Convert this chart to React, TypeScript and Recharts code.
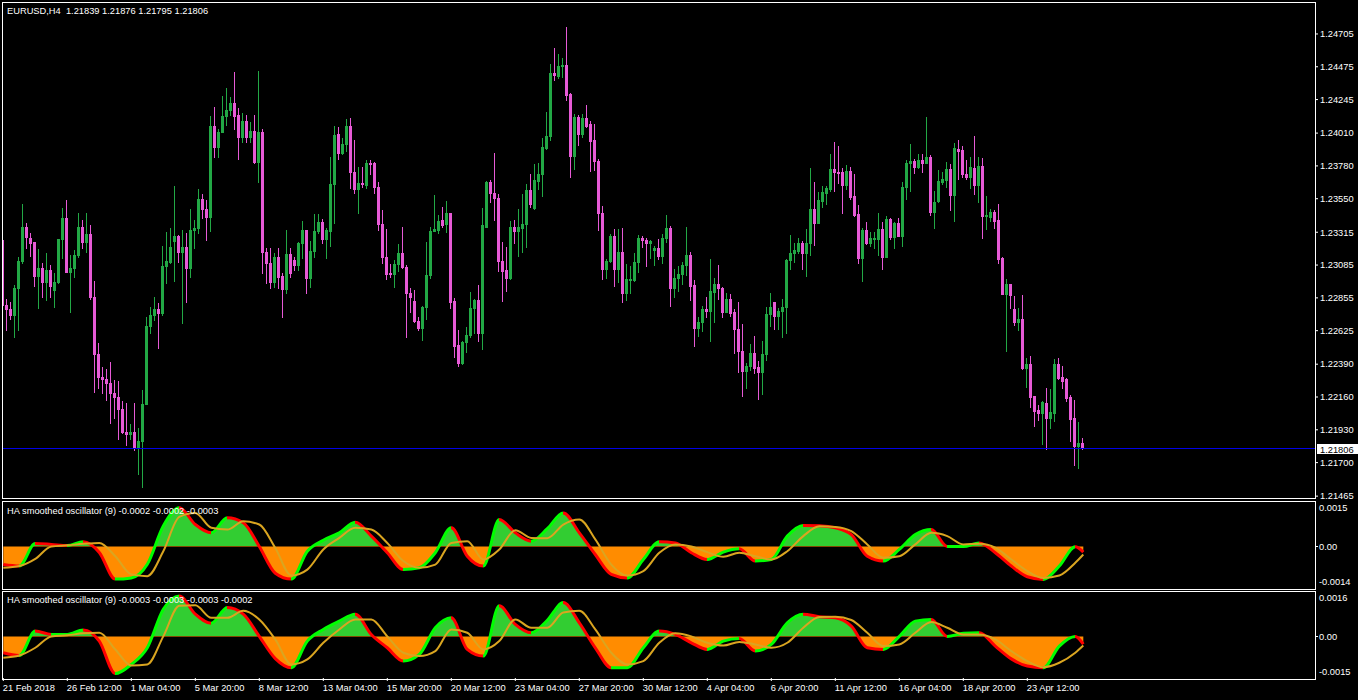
import React from "react";
import { ComposedChart, Bar, XAxis, YAxis, ReferenceLine, Area, Line } from "recharts";

const FONT = '"Liberation Sans", Arial, sans-serif';
const FS = 9.3;

// ---- price data (EURUSD H4) ----
const openPrice = [
1.23261,1.22805,1.22777,1.22735,1.22924,1.23113,1.23352,1.23275,1.23247,1.23008,
1.23064,1.22966,1.23050,1.22910,1.22966,1.23268,1.23415,1.23036,1.23064,1.23155,
1.23352,1.23247,1.23303,1.22861,1.22461,1.22300,1.22286,1.22258,1.22188,1.22160,
1.22076,1.21915,1.21901,1.21915,1.21803,1.21852,1.22111,1.22658,1.22735,1.22777,
1.22749,1.23078,1.23106,1.23254,1.23289,1.23176,1.23212,1.23064,1.23331,1.23345,
1.23548,1.23478,1.23422,1.24060,1.23913,1.24018,1.24130,1.24172,1.24221,1.24137,
1.23983,1.24095,1.23983,1.24025,1.23807,1.24018,1.23176,1.23099,1.22966,1.23141,
1.23008,1.22917,1.23162,1.23120,1.23085,1.23240,1.23331,1.22994,1.23183,1.23324,
1.23387,1.23268,1.23324,1.23653,1.24004,1.23870,1.23934,1.24060,1.23737,1.23618,
1.23660,1.23646,1.23800,1.23800,1.23632,1.23373,1.23141,1.23029,1.23022,1.23092,
1.23169,1.23071,1.22889,1.22833,1.22693,1.22644,1.22791,1.23015,1.23324,1.23331,
1.23401,1.23373,1.23450,1.22833,1.22525,1.22398,1.22546,1.22595,1.22784,1.22840,
1.22609,1.23352,1.23667,1.23590,1.23555,1.23113,1.23050,1.22994,1.23352,1.23324,
1.23345,1.23373,1.23611,1.23485,1.23674,1.23723,1.23906,1.23990,1.24432,1.24410,
1.24480,1.24487,1.24284,1.23849,1.24123,1.24004,1.24116,1.24074,1.23962,1.23814,
1.23450,1.23057,1.23113,1.23289,1.23057,1.23176,1.22889,1.22980,1.22980,1.23106,
1.23275,1.23261,1.23240,1.23190,1.23205,1.23148,1.23275,1.23345,1.22924,1.22994,
1.23022,1.23085,1.23155,1.22945,1.22644,1.22686,1.22777,1.22763,1.22896,1.22952,
1.22924,1.22756,1.22848,1.22756,1.22637,1.22482,1.22342,1.22377,1.22468,1.22370,
1.22335,1.22461,1.22742,1.22826,1.22728,1.22763,1.22791,1.23120,1.23169,1.23183,
1.23240,1.23169,1.23240,1.23478,1.23380,1.23534,1.23590,1.23618,1.23758,1.23737,
1.23737,1.23646,1.23744,1.23569,1.23443,1.23134,1.23331,1.23240,1.23268,1.23268,
1.23338,1.23141,1.23408,1.23282,1.23380,1.23289,1.23632,1.23800,1.23814,1.23772,
1.23821,1.23800,1.23842,1.23457,1.23534,1.23667,1.23681,1.23758,1.23576,1.23899,
1.23891,1.23723,1.23702,1.23765,1.23646,1.23779,1.23429,1.23422,1.23457,1.23401,
1.23134,1.22882,1.22952,1.22777,1.22686,1.22707,1.22363,1.22391,1.22167,1.22069,
1.22048,1.22118,1.22013,1.22048,1.22391,1.22300,1.22286,1.22160,1.22013,1.21817,
1.21839];

const highPrice = [
1.23583,1.22848,1.22826,1.22945,1.23141,1.23513,1.23380,1.23310,1.23247,1.23198,
1.23099,1.23169,1.23085,1.23029,1.23268,1.23485,1.23541,1.23155,1.23190,1.23450,
1.23401,1.23450,1.23366,1.22973,1.22539,1.22370,1.22356,1.22405,1.22279,1.22272,
1.22132,1.22118,1.21971,1.22118,1.21943,1.22209,1.22721,1.22791,1.22861,1.22819,
1.23219,1.23317,1.23345,1.23639,1.23296,1.23331,1.23310,1.23478,1.23401,1.23618,
1.23583,1.23541,1.24130,1.24193,1.24039,1.24271,1.24327,1.24264,1.24438,1.24186,
1.24151,1.24137,1.24088,1.24137,1.24446,1.24039,1.23205,1.23205,1.23169,1.23205,
1.23029,1.23331,1.23205,1.23141,1.23247,1.23394,1.23331,1.23254,1.23443,1.23443,
1.23408,1.23345,1.23842,1.24060,1.24053,1.23976,1.24109,1.24116,1.23962,1.23772,
1.23772,1.23821,1.23821,1.23807,1.23667,1.23471,1.23338,1.23092,1.23120,1.23233,
1.23352,1.23085,1.22924,1.22910,1.22721,1.22798,1.23247,1.23352,1.23576,1.23436,
1.23492,1.23534,1.23450,1.22854,1.22630,1.22553,1.22651,1.22896,1.22848,1.22945,
1.23485,1.23674,1.23681,1.23870,1.23583,1.23247,1.23212,1.23394,1.23401,1.23478,
1.23583,1.23653,1.23723,1.23793,1.23800,1.23976,1.24158,1.24495,1.24607,1.24564,
1.24536,1.24754,1.24291,1.24144,1.24137,1.24144,1.24207,1.24095,1.24074,1.23828,
1.23499,1.23127,1.23303,1.23338,1.23338,1.23345,1.23092,1.23078,1.23169,1.23296,
1.23289,1.23275,1.23261,1.23219,1.23268,1.23303,1.23436,1.23359,1.23057,1.23078,
1.23106,1.23352,1.23176,1.22980,1.22721,1.22798,1.22861,1.23127,1.22994,1.23085,
1.22931,1.22889,1.22882,1.22777,1.22826,1.22672,1.22398,1.22532,1.22588,1.22412,
1.22553,1.22791,1.22889,1.22826,1.22784,1.22848,1.23127,1.23296,1.23240,1.23275,
1.23254,1.23338,1.23765,1.23667,1.23597,1.23639,1.23639,1.23863,1.23948,1.23920,
1.23765,1.23786,1.23772,1.23723,1.23506,1.23345,1.23387,1.23317,1.23317,1.23450,
1.23387,1.23429,1.23415,1.23387,1.23415,1.23667,1.23821,1.23934,1.23828,1.23863,
1.23863,1.24123,1.23856,1.23604,1.23751,1.23737,1.23807,1.23793,1.23941,1.23962,
1.23920,1.23821,1.23842,1.23990,1.23842,1.23835,1.23569,1.23478,1.23471,1.23513,
1.23141,1.22987,1.22952,1.22868,1.22784,1.22875,1.22433,1.22447,1.22167,1.22104,
1.22132,1.22223,1.22216,1.22426,1.22433,1.22377,1.22293,1.22174,1.22139,1.21985,
1.21876];

const lowPrice = [
1.22784,1.22630,1.22707,1.22581,1.22630,1.23099,1.23205,1.23148,1.22938,1.22784,
1.22861,1.22840,1.22861,1.22791,1.22959,1.23134,1.23036,1.22756,1.23001,1.23141,
1.23205,1.23176,1.22848,1.22195,1.22223,1.22188,1.22139,1.21978,1.22013,1.21866,
1.21908,1.21824,1.21866,1.21788,1.21620,1.21529,1.22111,1.22609,1.22700,1.22504,
1.22735,1.22959,1.23099,1.22973,1.23106,1.22679,1.22826,1.23001,1.23205,1.23310,
1.23415,1.23261,1.23324,1.23842,1.23842,1.24018,1.24067,1.24137,1.24039,1.23828,
1.23948,1.23948,1.23948,1.23800,1.23667,1.23029,1.22959,1.22924,1.22931,1.22924,
1.22721,1.22889,1.23001,1.23050,1.23050,1.23134,1.22889,1.22931,1.23141,1.23310,
1.23240,1.23134,1.23219,1.23380,1.23828,1.23863,1.23884,1.23625,1.23590,1.23450,
1.23632,1.23625,1.23723,1.23590,1.23331,1.23099,1.22987,1.23001,1.22931,1.23043,
1.23064,1.22581,1.22756,1.22686,1.22630,1.22560,1.22707,1.22994,1.23324,1.23310,
1.23352,1.23317,1.22784,1.22440,1.22377,1.22391,1.22475,1.22581,1.22609,1.22553,
1.22497,1.23352,1.23527,1.23401,1.23043,1.22833,1.22903,1.22987,1.23240,1.23148,
1.23176,1.23212,1.23492,1.23478,1.23618,1.23569,1.23899,1.23962,1.24382,1.24396,
1.24403,1.24242,1.23702,1.23758,1.23927,1.23983,1.24053,1.23744,1.23751,1.23331,
1.22987,1.22994,1.23106,1.22938,1.22966,1.22826,1.22840,1.22889,1.22973,1.23036,
1.23212,1.23078,1.23134,1.23085,1.23127,1.23099,1.23247,1.22798,1.22861,1.22903,
1.22952,1.23015,1.22840,1.22518,1.22588,1.22623,1.22721,1.22553,1.22686,1.22848,
1.22721,1.22756,1.22728,1.22468,1.22335,1.22167,1.22223,1.22349,1.22328,1.22146,
1.22181,1.22419,1.22658,1.22637,1.22637,1.22581,1.22609,1.23057,1.23106,1.23169,
1.23057,1.23008,1.23155,1.23226,1.23380,1.23492,1.23513,1.23604,1.23604,1.23660,
1.23450,1.23618,1.23548,1.23429,1.23099,1.22973,1.23233,1.23219,1.23205,1.23155,
1.23057,1.23141,1.23268,1.23205,1.23289,1.23219,1.23548,1.23604,1.23730,1.23765,
1.23737,1.23800,1.23436,1.23345,1.23527,1.23653,1.23632,1.23471,1.23394,1.23688,
1.23702,1.23688,1.23625,1.23583,1.23527,1.23275,1.23338,1.23394,1.23345,1.23099,
1.22882,1.22482,1.22784,1.22665,1.22630,1.22356,1.22230,1.22090,1.21957,1.21999,
1.21831,1.21796,1.21943,1.21992,1.22286,1.22223,1.22132,1.21852,1.21683,1.21662,
1.21795];

const closePrice = [
1.22805,1.22777,1.22735,1.22924,1.23113,1.23352,1.23282,1.23240,1.23008,1.23064,
1.22966,1.23050,1.22938,1.22966,1.23268,1.23415,1.23036,1.23064,1.23155,1.23352,
1.23247,1.23303,1.22861,1.22461,1.22300,1.22286,1.22258,1.22188,1.22160,1.22076,
1.21915,1.21901,1.21915,1.21803,1.21852,1.22111,1.22658,1.22735,1.22777,1.22749,
1.23078,1.23113,1.23212,1.23289,1.23176,1.23212,1.23064,1.23331,1.23345,1.23548,
1.23478,1.23422,1.24060,1.23913,1.24018,1.24130,1.24172,1.24221,1.24130,1.23983,
1.24095,1.23983,1.24025,1.23807,1.24018,1.23176,1.23099,1.22966,1.23141,1.23001,
1.22917,1.23162,1.23029,1.23085,1.23240,1.23331,1.22994,1.23183,1.23324,1.23387,
1.23268,1.23331,1.23653,1.23997,1.23870,1.23934,1.24060,1.23737,1.23618,1.23660,
1.23653,1.23800,1.23793,1.23632,1.23373,1.23141,1.23022,1.23022,1.23092,1.23169,
1.23071,1.22889,1.22861,1.22693,1.22644,1.22791,1.23015,1.23324,1.23338,1.23394,
1.23366,1.23450,1.22826,1.22518,1.22398,1.22546,1.22595,1.22784,1.22840,1.22609,
1.23366,1.23667,1.23590,1.23555,1.23113,1.23043,1.22994,1.23352,1.23324,1.23352,
1.23373,1.23611,1.23513,1.23681,1.23723,1.23913,1.23990,1.24432,1.24417,1.24480,
1.24487,1.24277,1.23849,1.24123,1.24004,1.24116,1.24060,1.23955,1.23814,1.23450,
1.23057,1.23113,1.23289,1.23057,1.23176,1.22889,1.22987,1.22987,1.23106,1.23275,
1.23261,1.23240,1.23254,1.23205,1.23148,1.23275,1.23345,1.22924,1.22994,1.23022,
1.23085,1.23155,1.22938,1.22644,1.22686,1.22777,1.22763,1.22903,1.22952,1.22924,
1.22756,1.22848,1.22749,1.22637,1.22482,1.22342,1.22377,1.22468,1.22363,1.22335,
1.22461,1.22742,1.22791,1.22728,1.22763,1.22791,1.23120,1.23169,1.23190,1.23240,
1.23169,1.23240,1.23478,1.23380,1.23541,1.23597,1.23625,1.23758,1.23737,1.23730,
1.23646,1.23744,1.23562,1.23436,1.23134,1.23331,1.23240,1.23275,1.23275,1.23338,
1.23141,1.23408,1.23282,1.23380,1.23289,1.23632,1.23800,1.23814,1.23772,1.23821,
1.23800,1.23842,1.23457,1.23527,1.23674,1.23688,1.23758,1.23576,1.23906,1.23884,
1.23723,1.23702,1.23772,1.23646,1.23779,1.23429,1.23436,1.23457,1.23394,1.23127,
1.22882,1.22952,1.22875,1.22686,1.22707,1.22363,1.22391,1.22160,1.22062,1.22048,
1.22125,1.22013,1.22055,1.22391,1.22293,1.22272,1.22153,1.22006,1.21817,1.21838,
1.21806];

const priceTicks = [1.21465, 1.217, 1.2193, 1.2216, 1.2239, 1.22625, 1.22855, 1.23085, 1.23315, 1.2355, 1.2378, 1.2401, 1.24245, 1.24475, 1.24705];
const lastPrice = 1.21806;
const headerText = "EURUSD,H4  1.21839 1.21876 1.21795 1.21806";

// ---- time axis ----
const timeTickIndex = [0, 16, 32, 48, 64, 80, 96, 112, 128, 144, 160, 176, 192, 208, 224, 240, 256];
const timeTickLabels = ["21 Feb 2018", "26 Feb 12:00", "1 Mar 04:00", "5 Mar 20:00", "8 Mar 12:00", "13 Mar 04:00", "15 Mar 20:00", "20 Mar 12:00", "23 Mar 04:00", "27 Mar 20:00", "30 Mar 12:00", "4 Apr 04:00", "6 Apr 20:00", "11 Apr 12:00", "16 Apr 04:00", "18 Apr 20:00", "23 Apr 12:00"];

// ---- oscillators (sampled every 4 bars) ----
const oscIndex = [0,4,8,12,16,20,24,28,32,36,40,44,48,52,56,60,64,68,72,76,80,84,88,92,96,100,104,108,112,116,120,124,128,132,136,140,144,148,152,156,160,164,168,172,176,180,184,188,192,196,200,204,208,212,216,220,224,228,232,236,240,244,248,252,256,260,264,268,270];

const osc1Value = [
-0.00061,-0.00066,0.0001,0.00007,0.00003,0.00016,-0.0002,-0.0011,-0.00106,-0.0006,
0.00069,0.00131,0.00074,0.00046,0.00097,0.0008,0.0,-0.0009,-0.0011,-0.00016,
0.00021,0.00046,0.00082,0.00035,-0.00021,-0.00078,-0.00072,-0.00021,0.00063,-0.00033,
-0.00066,0.00091,0.00046,0.00018,0.0006,0.00113,0.00046,-0.00027,-0.00094,-0.00106,
-0.00044,0.00016,0.00012,-0.00021,-0.00044,-0.00019,-0.00008,-0.00049,-0.00044,0.00035,
0.00071,0.0007,0.00063,0.0004,-0.00033,-0.00049,-0.0001,0.0004,0.00057,0.0,
0.0,0.00012,-0.00021,-0.00066,-0.00102,-0.00111,-0.00066,-0.00001,-0.00019];

const osc1Signal = [
-0.00072,-0.00066,-0.00042,0.0,0.00004,0.00009,0.00012,-0.00033,-0.00094,-0.001,
-0.00016,0.001,0.00113,0.00063,0.00057,0.00085,0.00074,-0.00005,-0.00098,-0.00078,
-0.0001,0.00029,0.00063,0.00057,0.00012,-0.00049,-0.00072,-0.00061,0.00012,0.00018,
-0.00044,-0.0001,0.00055,0.00029,0.00028,0.00074,0.00091,0.00024,-0.00061,-0.00098,
-0.00083,-0.00021,0.00007,0.0,-0.00019,-0.00035,-0.00021,-0.00033,-0.00044,-0.00016,
0.00035,0.00068,0.00066,0.00052,0.00007,-0.00038,-0.00033,0.00007,0.00046,0.00035,
0.00007,0.00009,-0.00004,-0.00044,-0.00083,-0.00106,-0.00098,-0.00055,-0.00027];

const osc2Value = [
-0.00059,-0.00069,0.00019,0.00007,0.00007,0.00023,-0.00017,-0.00134,-0.00101,-0.00041,
0.00098,0.00146,0.0008,0.00047,0.00104,0.0008,0.0,-0.0008,-0.00113,-0.00017,
0.00025,0.00055,0.0008,0.00007,-0.00041,-0.00089,-0.00065,0.00031,0.00067,-0.00047,
-0.00071,0.0011,0.00043,0.00013,0.00058,0.00122,0.00049,-0.00041,-0.00113,-0.00113,
-0.00041,0.00019,0.00007,-0.00023,-0.00047,-0.00017,-0.00008,-0.00053,-0.00029,0.00049,
0.0008,0.00071,0.00067,0.00037,-0.00041,-0.00047,0.0,0.00055,0.00061,0.0,
0.00011,0.00013,-0.00035,-0.00081,-0.00107,-0.00113,-0.00035,0.0,-0.00028];

const osc2Signal = [
-0.00077,-0.00069,-0.00041,0.0,0.00004,0.00011,0.00013,-0.00047,-0.00105,-0.00101,
0.0,0.0011,0.00112,0.00067,0.00067,0.00092,0.00061,-0.00011,-0.00101,-0.00083,
-0.00023,0.00025,0.00061,0.00061,0.0,-0.00059,-0.00071,-0.00053,0.00025,0.00013,
-0.00047,-0.00017,0.00061,0.00031,0.00031,0.00086,0.00092,0.00025,-0.00059,-0.00101,
-0.00089,-0.00023,0.00011,0.0,-0.00023,-0.00033,-0.0002,-0.00029,-0.00041,-0.00023,
0.00031,0.0007,0.00071,0.00059,0.00013,-0.00035,-0.00029,0.00013,0.00052,0.00031,
0.00007,0.00007,-0.00011,-0.00053,-0.00089,-0.00111,-0.00095,-0.00059,-0.00033];

const osc1Title = "HA smoothed oscillator (9) -0.0002 -0.0002 -0.0003";
const osc2Title = "HA smoothed oscillator (9) -0.0003 -0.0003 -0.0003 -0.0002";
const osc1Domain = [-0.0014, 0.0015];
const osc2Domain = [-0.0015, 0.0016];
const osc1Labels = ["-0.0014", "0.00", "0.0015"];
const osc2Labels = ["-0.0015", "0.00", "0.0016"];

// ---- styling ----
const BULL = "#22a845";
const BEAR = "#e75ad6";
const X_DOMAIN = [-0.075, 327.925];

const nBars = Math.min(openPrice.length, highPrice.length, lowPrice.length, closePrice.length);
const candles = Array.from({ length: nBars }, (_, i) => ({
  i,
  o: openPrice[i],
  h: highPrice[i],
  l: lowPrice[i],
  c: closePrice[i],
  range: [lowPrice[i], highPrice[i]],
}));

const Candle = (props: any) => {
  const { x, y, width, height, payload } = props;
  if (x == null || y == null || !payload) return null;
  const yTop = Math.min(y, y + height);
  const hh = Math.abs(height);
  const { o, h, l, c } = payload;
  const span = h - l;
  const py = (p: number) => (span <= 0 ? yTop : yTop + ((h - p) / span) * hh);
  const cx = Math.floor(x + width / 2);
  const up = c >= o;
  const col = up ? BULL : BEAR;
  const bt = Math.round(py(Math.min(h, Math.max(o, c))));
  const bb = Math.round(py(Math.max(l, Math.min(o, c))));
  return (
    <g>
      <line x1={cx + 0.5} x2={cx + 0.5} y1={Math.round(yTop)} y2={Math.round(yTop + hh) + 1} stroke={col} strokeWidth={1} />
      <rect x={cx - 1} y={bt} width={3} height={Math.max(1, bb - bt + 1)} fill={col} />
    </g>
  );
};

const BidLine = (props: any) => {
  const { x1, x2, y1 } = props;
  if (x1 == null || y1 == null) return null;
  const yy = Math.round(y1) + 0.5;
  return <line x1={x1} x2={x2} y1={yy} y2={yy} stroke="#0000e6" strokeWidth={1} />;
};

const PriceTag = (props: any) => {
  const vb = props.viewBox || {};
  const x = (vb.x ?? 0) + (vb.width ?? 0);
  const y = Math.round(vb.y ?? 0);
  return (
    <g>
      <rect x={x + 2} y={y - 4} width={45} height={10} fill="#ffffff" />
      <text x={x + 5} y={y + 4.5} fill="#000" fontSize={FS} fontFamily={FONT}>
        {lastPrice.toFixed(5)}
      </text>
    </g>
  );
};

const makeOscTick = (labels: string[], domain: number[]) => (props: any) => {
  const { x, y, payload } = props;
  const v = payload?.value;
  let k = 1;
  let dy = 0;
  if (v === domain[1]) { k = 2; dy = 6; }
  else if (v === domain[0]) { k = 0; dy = -6; }
  return (
    <g>
      {k === 1 && <line x1={x - 4} x2={x - 1} y1={Math.round(y) + 0.5} y2={Math.round(y) + 0.5} stroke="#fff" />}
      <text x={x} y={y + dy} dy="0.355em" fill="#fff" fontSize={FS} fontFamily={FONT} textAnchor="start">
        {labels[k]}
      </text>
    </g>
  );
};

const TimeTick = (props: any) => {
  const { x, y, payload } = props;
  const k = timeTickIndex.indexOf(payload?.value);
  return (
    <text x={x - 0.5} y={y + 8} fill="#fff" fontSize={FS} fontFamily={FONT} textAnchor="start">
      {timeTickLabels[k] ?? ""}
    </text>
  );
};

function Oscillator(props: {
  id: string; values: number[]; signal: number[]; domain: number[]; labels: string[]; height: number; showX: boolean;
}) {
  const { id, values, signal, domain, labels, height, showX } = props;
  const data = oscIndex.map((i, k) => ({ i, v: values[k], s: signal[k] }));
  const vmax = Math.max(0, ...values);
  const vmin = Math.min(0, ...values);
  const zf = vmax - vmin > 0 ? vmax / (vmax - vmin) : 0.5;
  const last = oscIndex[oscIndex.length - 1];
  const stops: React.ReactNode[] = [];
  for (let k = 0; k < values.length - 1; k++) {
    const col = values[k + 1] >= values[k] ? "#00ff00" : "#ff0000";
    stops.push(<stop key={`a${k}`} offset={oscIndex[k] / last} stopColor={col} />);
    stops.push(<stop key={`b${k}`} offset={oscIndex[k + 1] / last} stopColor={col} />);
  }
  return (
    <ComposedChart width={1358} height={height} data={data} margin={{ top: 1, right: 0, bottom: showX ? 0 : 2, left: 3 }}>
      <defs>
        <linearGradient id={`fill${id}`} x1="0" y1="0" x2="0" y2="1">
          <stop offset={zf} stopColor="#32cd32" />
          <stop offset={zf} stopColor="#ff8c00" />
        </linearGradient>
        <linearGradient id={`line${id}`} x1="0" y1="0" x2="1" y2="0">
          {stops}
        </linearGradient>
      </defs>
      <XAxis
        type="number"
        dataKey="i"
        domain={X_DOMAIN}
        allowDataOverflow
        hide={!showX}
        ticks={timeTickIndex}
        interval={0}
        axisLine={false}
        tickLine={{ stroke: "#ffffff" }}
        tickSize={3}
        tickMargin={2}
        height={22}
        tick={<TimeTick />}
      />
      <YAxis
        orientation="right"
        width={43}
        domain={domain}
        allowDataOverflow
        ticks={[domain[0], 0, domain[1]]}
        interval={0}
        axisLine={false}
        tickLine={false}
        tickSize={3}
        tickMargin={1}
        tick={makeOscTick(labels, domain)}
      />
      <Area type="monotone" dataKey="v" baseValue={0} stroke="none" fill={`url(#fill${id})`} fillOpacity={1} isAnimationActive={false} dot={false} activeDot={false} />
      <Line type="monotone" dataKey="v" stroke={`url(#line${id})`} strokeWidth={3} dot={false} activeDot={false} isAnimationActive={false} />
      <Line type="monotone" dataKey="s" stroke="#daa520" strokeWidth={2} dot={false} activeDot={false} isAnimationActive={false} />
    </ComposedChart>
  );
}

const textStyle: React.CSSProperties = {
  position: "absolute",
  left: 7,
  color: "#ffffff",
  fontFamily: FONT,
  fontSize: FS,
  lineHeight: "12px",
  whiteSpace: "pre",
};

const border = (top: number, height: number): React.CSSProperties => ({
  position: "absolute",
  left: 2,
  top,
  width: 1314,
  height,
  boxSizing: "border-box",
  border: "1px solid #ffffff",
  pointerEvents: "none",
});

export default function App() {
  return (
    <div style={{ position: "absolute", left: 0, top: 0, width: 1358, height: 700, background: "#000", overflow: "hidden" }}>
      <div style={{ position: "absolute", left: 0, top: 0 }}>
        <ComposedChart width={1358} height={500} data={candles} margin={{ top: 2, right: 0, bottom: 2, left: 3 }}>
          <XAxis type="number" dataKey="i" domain={X_DOMAIN} allowDataOverflow hide />
          <YAxis
            orientation="right"
            width={43}
            domain={[1.21452, 1.24929]}
            allowDataOverflow
            ticks={priceTicks}
            interval={0}
            axisLine={false}
            tickLine={{ stroke: "#ffffff" }}
            tickSize={3}
            tickMargin={2}
            tickFormatter={(v: number) => v.toFixed(5)}
            tick={{ fill: "#ffffff", fontSize: FS, fontFamily: FONT }}
          />
          <ReferenceLine
            y={lastPrice}
            stroke="#0000e6"
            strokeWidth={1}
            shape={(p: any) => <BidLine {...p} />}
            label={<PriceTag />}
          />
          <Bar dataKey="range" barSize={3} shape={(p: any) => <Candle {...p} />} isAnimationActive={false} />
        </ComposedChart>
      </div>
      <div style={{ position: "absolute", left: 0, top: 501 }}>
        <Oscillator id="o1" values={osc1Value} signal={osc1Signal} domain={osc1Domain} labels={osc1Labels} height={89} showX={false} />
      </div>
      <div style={{ position: "absolute", left: 0, top: 591 }}>
        <Oscillator id="o2" values={osc2Value} signal={osc2Signal} domain={osc2Domain} labels={osc2Labels} height={109} showX={true} />
      </div>
      <div style={border(2, 497)} />
      <div style={border(501, 89)} />
      <div style={border(591, 89)} />
      <div style={{ ...textStyle, top: 5 }}>{headerText}</div>
      <div style={{ ...textStyle, top: 505 }}>{osc1Title}</div>
      <div style={{ ...textStyle, top: 594 }}>{osc2Title}</div>
    </div>
  );
}
